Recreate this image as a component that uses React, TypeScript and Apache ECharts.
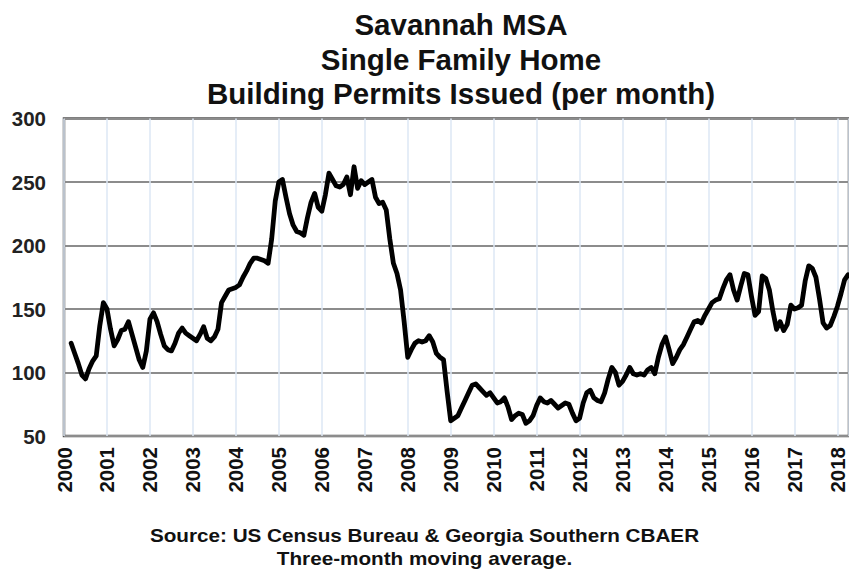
import React, { useEffect, useRef } from "react";
import * as echarts from "echarts";

// Three-month moving average of monthly single-family permits, Mar 2000 .. Apr 2018
const START_YEAR = 2000;
const START_MONTH = 3; // March
const permits: number[] = [
  // 2000 (Mar-Dec)
  123, 115, 107, 98, 95, 103, 109, 113, 137, 155,
  // 2001
  150, 134, 121, 126, 133, 134, 140, 130, 120, 110, 104, 117,
  // 2002
  142, 147, 140, 130, 121, 118, 117, 123, 131, 135, 131, 129,
  // 2003
  127, 125, 130, 136, 127, 125, 128, 134, 155, 160, 165, 166,
  // 2004
  167, 169, 175, 180, 186, 190, 190, 189, 188, 186, 205, 235,
  // 2005
  250, 252, 238, 225, 216, 211, 210, 208, 222, 234, 241, 230,
  // 2006
  227, 240, 257, 252, 247, 246, 248, 254, 240, 262, 245, 251,
  // 2007
  248, 250, 252, 238, 233, 234, 228, 205, 186, 178, 165, 140,
  // 2008
  112, 118, 123, 125, 124, 125, 129, 124, 115, 112, 110, 85,
  // 2009
  62, 64, 66, 72, 78, 84, 90, 91, 88, 85, 82, 84,
  // 2010
  80, 76, 77, 80, 73, 63, 66, 68, 67, 60, 62, 66,
  // 2011
  74, 80, 77, 76, 78, 75, 72, 74, 76, 75, 68, 62,
  // 2012
  64, 76, 84, 86, 80, 78, 77, 84, 95, 104, 100, 90,
  // 2013
  93, 98, 104, 99, 98, 99, 98, 102, 104, 99, 112, 122,
  // 2014
  128, 118, 107, 112, 118, 122, 128, 134, 140, 141, 139, 145,
  // 2015
  150, 155, 157, 158, 166, 173, 177, 165, 157, 168, 178, 177,
  // 2016
  160, 145, 148, 176, 174, 165, 148, 134, 140, 133, 138, 153,
  // 2017
  150, 151, 153, 172, 184, 182, 175, 158, 139, 135, 137, 144,
  // 2018 (Jan-Apr)
  152, 162, 173, 177,
];

const yearTicks: number[] = [
  2000, 2001, 2002, 2003, 2004, 2005, 2006, 2007, 2008, 2009,
  2010, 2011, 2012, 2013, 2014, 2015, 2016, 2017, 2018,
];
const yTicks: number[] = [50, 100, 150, 200, 250, 300];

const titleLines: string[] = [
  "Savannah MSA",
  "Single Family Home",
  "Building Permits Issued (per month)",
];
const footerLines: string[] = [
  "Source: US Census Bureau & Georgia Southern CBAER",
  "Three-month moving average.",
];

export default function App() {
  const ref = useRef<HTMLDivElement>(null);
  useEffect(() => {
    if (!ref.current) return;
    const chart = echarts.init(ref.current, null, { renderer: "svg" });
    const seriesData = permits.map((v, i) => [
      START_YEAR + (START_MONTH - 1 + i) / 12,
      v,
    ]);
    const font = "'Liberation Sans', Arial, sans-serif";
    chart.setOption({
      animation: false,
      backgroundColor: "#ffffff",
      title: {
        text: titleLines.join("\n"),
        left: 456,
        textAlign: "center",
        top: 2.5,
        textStyle: {
          fontFamily: font,
          fontWeight: "bold",
          fontSize: 29.5,
          lineHeight: 34.5,
          color: "#111",
        },
      },
      graphic: footerLines.map((t, i) => ({
        type: "text",
        x: 424.5,
        y: 536 + i * 22.5,
        scaleX: 1.15,
        style: {
          text: t,
          align: "center",
          verticalAlign: "middle",
          fontFamily: font,
          fontWeight: "bold",
          fontSize: 18,
          fill: "#111",
        },
      })),
      grid: {
        left: 64,
        right: 0,
        top: 118.5,
        bottom: 133,
        show: true,
        borderColor: "#555",
        borderWidth: 2.5,
        containLabel: false,
      },
      xAxis: {
        type: "value",
        min: yearTicks[0],
        max: 2018.27,
        interval: 1,
        axisLine: { show: false },
        axisTick: { show: false },
        splitLine: { show: true, lineStyle: { color: "#dce7f4", width: 1.5 } },
        axisLabel: {
          rotate: 90,
          margin: 11,
          fontFamily: font,
          fontWeight: "bold",
          fontSize: 20.5,
          color: "#111",
          showMaxLabel: false,
          formatter: (v: number) =>
            yearTicks.indexOf(Math.round(v * 1000) / 1000) >= 0 ? String(v) : "",
        },
      },
      yAxis: {
        type: "value",
        min: yTicks[0],
        max: yTicks[yTicks.length - 1],
        interval: 50,
        axisLine: { show: false },
        axisTick: { show: false },
        splitLine: { show: true, lineStyle: { color: "#8c8c8c", width: 2 } },
        axisLabel: {
          margin: 18,
          fontFamily: font,
          fontWeight: "bold",
          fontSize: 20.5,
          color: "#222",
        },
      },
      series: [
        {
          type: "line",
          data: seriesData,
          showSymbol: false,
          symbol: "none",
          lineStyle: { color: "#000", width: 4.8, join: "round", cap: "round" },
          z: 5,
        },
      ],
    });
    return () => chart.dispose();
  }, []);
  return (
    <div
      ref={ref}
      style={{ position: "fixed", left: 0, top: 0, width: 849, height: 569 }}
    />
  );
}
